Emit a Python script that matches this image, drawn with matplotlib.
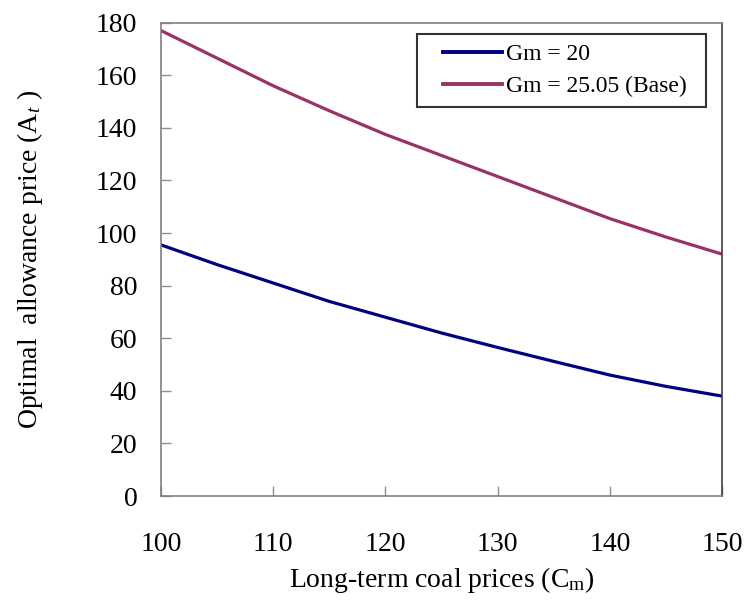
import matplotlib
matplotlib.use('Agg')
import matplotlib.pyplot as plt
from matplotlib.lines import Line2D
from matplotlib.legend_handler import HandlerLine2D

plt.rcParams['font.family'] = ['Liberation Serif', 'DejaVu Serif']
plt.rcParams['mathtext.fontset'] = 'custom'
plt.rcParams['mathtext.rm'] = 'Liberation Serif'
plt.rcParams['mathtext.it'] = 'Liberation Serif:italic'

# coal price (x) and optimal allowance price for the two cases
coal = [100, 105, 110, 115, 120, 125, 130, 135, 140, 145, 150]
gm20 = [95.5, 88, 81, 74, 68, 62, 56.5, 51.2, 46, 41.7, 38]
gm_base = [177, 166.5, 156, 146.5, 137.5, 129.5, 121.5, 113.5, 105.5, 98.5, 92]
labels = ['Gm = 20', 'Gm = 25.05 (Base)']

fig = plt.figure(figsize=(7.51, 6.03), dpi=100)
ax = fig.add_axes([0.2144, 0.1774, 0.747, 0.785])
ax.plot(coal, gm20, color='#000080', lw=2.3, label=labels[0])
ax.plot(coal, gm_base, color='#993366', lw=2.3, label=labels[1])

ax.set_xlim(100, 150)
ax.set_ylim(0, 180)
ax.set_xticks(range(100, 151, 10))
ax.set_yticks(range(0, 181, 20))
ax.tick_params(direction='in', length=7, width=1, color='#909090',
               labelsize=20)
ax.tick_params(axis='x', pad=26)
ax.tick_params(axis='y', pad=17)
for s in ax.spines.values():
    s.set_color('#808080')
    s.set_linewidth(1.2)
ax.spines['right'].set_color('#404040')

ax.set_xlabel(r'Long-term coal prices (C$_\mathrm{m}$)', fontsize=20, labelpad=6)
ax.set_ylabel(r'Optimal  allowance price (A$_{t}$ )', fontsize=20, labelpad=37)

# legend box spans the same width as in the original figure
leg = ax.legend(loc='upper left', bbox_to_anchor=(0.5553, 0.80, 0.3848, 0.1436),
                bbox_transform=fig.transFigure, mode='expand', fontsize=17,
                frameon=True, fancybox=False, handlelength=3.2,
                handletextpad=0.15, labelspacing=0.45, borderpad=0.4,
                borderaxespad=0, handler_map={Line2D: HandlerLine2D(xpad=0.7)})
leg.get_frame().set_edgecolor('black')
leg.get_frame().set_linewidth(1.5)
for h in leg.get_lines():
    h.set_linewidth(2.8)

plt.savefig('out.png', dpi=100)
